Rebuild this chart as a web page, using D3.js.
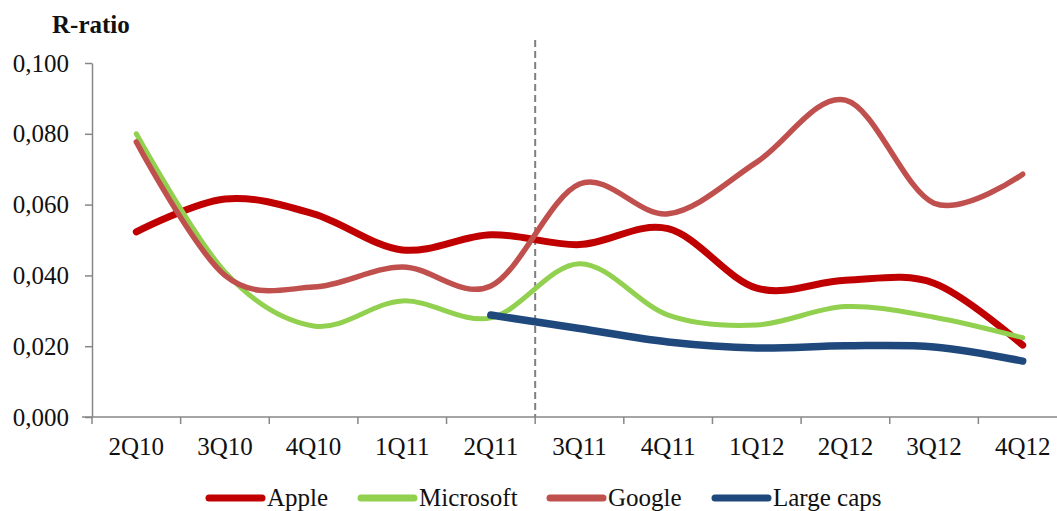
<!DOCTYPE html>
<html>
<head>
<meta charset="utf-8">
<script src="https://cdn.jsdelivr.net/npm/d3@7"></script>
<style>
    body { margin: 0; background: #fff; }
    text { font-family: 'Liberation Serif', 'Times New Roman', serif; }
</style>
</head>
<body>
<div id="chart"></div>
<script>
// Chart data
const quarters = ['2Q10', '3Q10', '4Q10', '1Q11', '2Q11', '3Q11', '4Q11', '1Q12', '2Q12', '3Q12', '4Q12'];
const apple = [0.0523, 0.0616, 0.0574, 0.0472, 0.0515, 0.0487, 0.0532, 0.0364, 0.0386, 0.0378, 0.0203];
const microsoft = [0.0800, 0.0410, 0.0257, 0.0328, 0.0280, 0.0433, 0.0288, 0.0260, 0.0312, 0.0282, 0.0224];
const google = [0.0777, 0.0400, 0.0367, 0.0424, 0.0370, 0.0658, 0.0574, 0.0720, 0.0895, 0.0604, 0.0686];
const largeCaps = [null, null, null, null, 0.0288, 0.0250, 0.0212, 0.0195, 0.0201, 0.0198, 0.0158];
const yTicks = [0, 0.02, 0.04, 0.06, 0.08, 0.1];

const series = [
    { name: 'Apple', values: apple, color: '#C00000', width: 7 },
    { name: 'Microsoft', values: microsoft, color: '#92D050', width: 5 },
    { name: 'Google', values: google, color: '#C0504D', width: 5.5 },
    { name: 'Large caps', values: largeCaps, color: '#1F497D', width: 7.5 }
];

const W = 1057, H = 511;
const fontSize = 25;
const svg = d3.select('#chart').append('svg')
    .attr('width', W)
    .attr('height', H);

// Scales
const x = d3.scaleBand().domain(quarters).range([92, 1067]);
const y = d3.scaleLinear().domain([0, 0.1]).range([417, 63]);
const axisColor = '#878787';

// Y axis
const yAxis = svg.append('g')
    .attr('transform', 'translate(92,0)')
    .call(d3.axisLeft(y).tickValues(yTicks).tickSize(7).tickSizeOuter(0).tickPadding(16)
        .tickFormat((d) => d3.format('.3f')(d).replace('.', ',')));
yAxis.select('.domain').attr('stroke', axisColor).attr('stroke-width', 1.5);
yAxis.selectAll('.tick line').attr('stroke', axisColor).attr('stroke-width', 1.5);
yAxis.selectAll('text').attr('font-size', fontSize).attr('fill', '#111');

// X axis (labels centered, ticks at band edges)
const xAxis = svg.append('g')
    .attr('transform', 'translate(0,417)')
    .call(d3.axisBottom(x).tickSize(0).tickPadding(20));
xAxis.select('.domain').remove();
xAxis.selectAll('text').attr('font-size', fontSize).attr('fill', '#111');
svg.append('line')
    .attr('x1', 82).attr('x2', 1067)
    .attr('y1', 417).attr('y2', 417)
    .attr('stroke', axisColor).attr('stroke-width', 1.5);
const edges = quarters.map((q) => x(q)).concat([x.range()[1]]);
svg.append('g').selectAll('line')
    .data(edges)
    .enter()
    .append('line')
    .attr('x1', (d) => d).attr('x2', (d) => d)
    .attr('y1', 417).attr('y2', 424)
    .attr('stroke', axisColor).attr('stroke-width', 1.5);

// Dashed divider between 2Q11 and 3Q11
svg.append('line')
    .attr('x1', x('3Q11')).attr('x2', x('3Q11'))
    .attr('y1', 40).attr('y2', 417)
    .attr('stroke', '#808080')
    .attr('stroke-width', 2)
    .attr('stroke-dasharray', '7,4');

// Title
svg.append('text')
    .attr('x', 52).attr('y', 33)
    .attr('font-size', fontSize)
    .attr('font-weight', 'bold')
    .attr('fill', '#111')
    .text('R-ratio');

// Lines
const cx = (i) => x(quarters[i]) + x.bandwidth() / 2;
const line = d3.line()
    .defined((d) => d != null)
    .x((d, i) => cx(i))
    .y((d) => y(d))
    .curve(d3.curveCardinal.tension(0));

svg.append('g').selectAll('path')
    .data(series)
    .enter()
    .append('path')
    .attr('d', (s) => line(s.values))
    .attr('fill', 'none')
    .attr('stroke', (s) => s.color)
    .attr('stroke-width', (s) => s.width)
    .attr('stroke-linecap', 'round')
    .attr('stroke-linejoin', 'round');

// Legend
const legendX = [206, 358, 547, 712];
const legend = svg.append('g').selectAll('g')
    .data(series)
    .enter()
    .append('g')
    .attr('transform', (d, i) => `translate(${legendX[i]},498)`);
legend.append('line')
    .attr('x1', 3).attr('x2', 56)
    .attr('y1', 0).attr('y2', 0)
    .attr('stroke', (d) => d.color)
    .attr('stroke-width', 7)
    .attr('stroke-linecap', 'round');
legend.append('text')
    .attr('x', 61).attr('y', 8)
    .attr('font-size', fontSize)
    .attr('fill', '#111')
    .text((d) => d.name);
</script>
</body>
</html>
